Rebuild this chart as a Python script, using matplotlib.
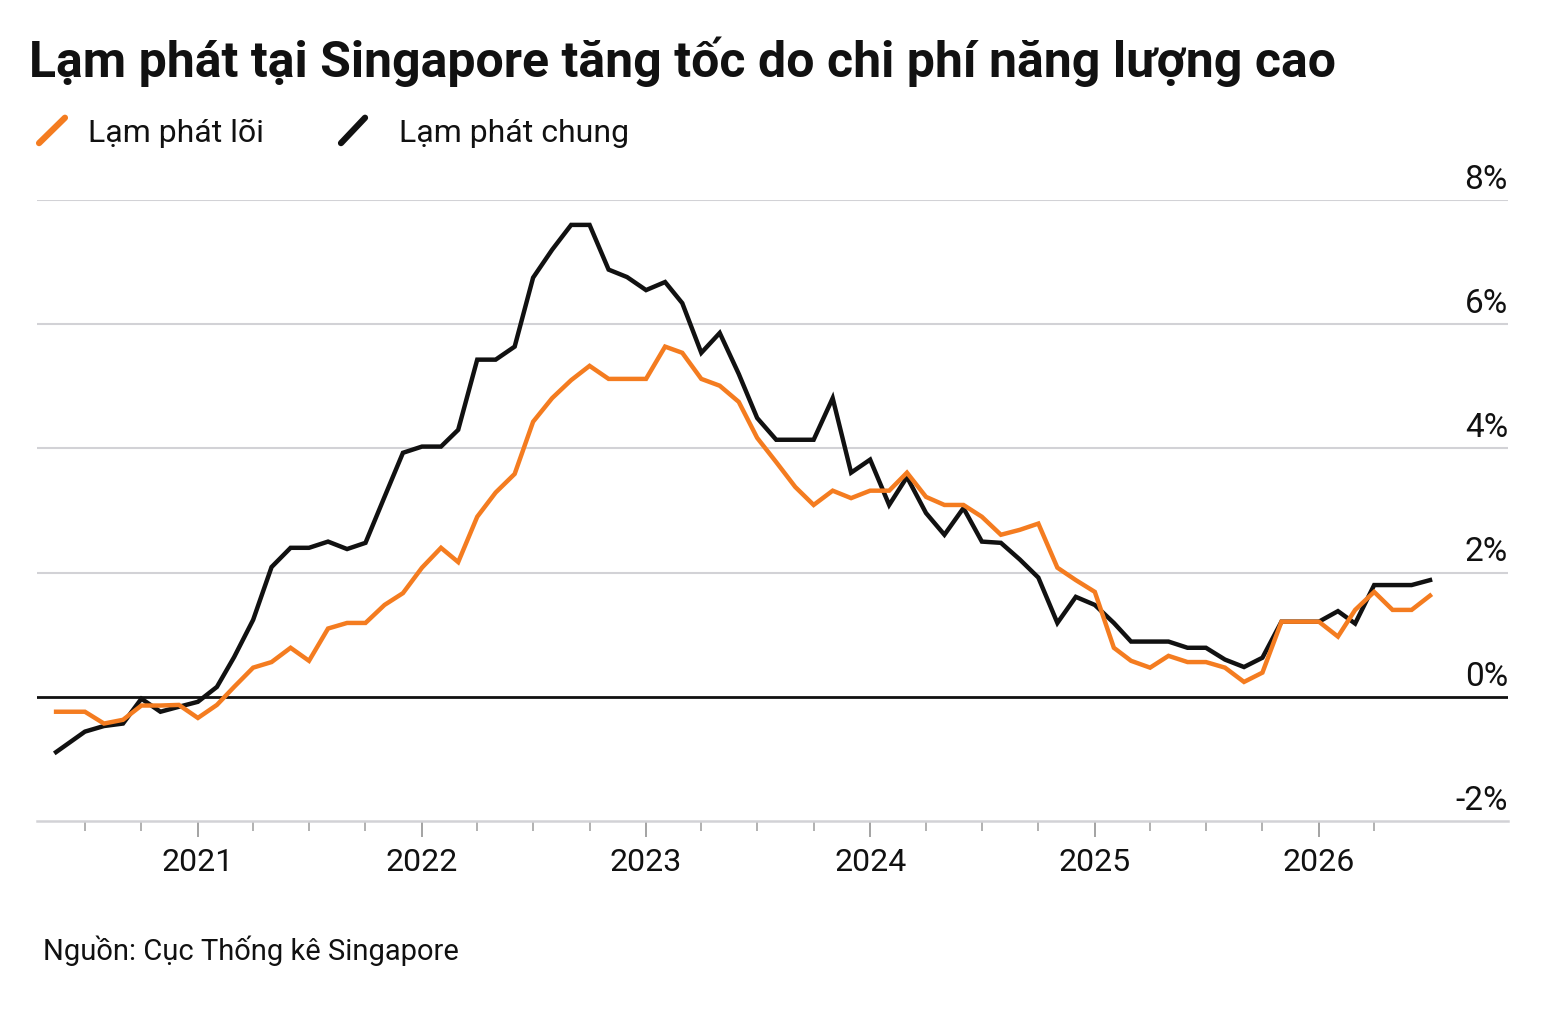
import matplotlib
matplotlib.use("Agg")
import matplotlib.pyplot as plt
import matplotlib.dates as mdates
import matplotlib.transforms as mtrans
import matplotlib.ticker as mticker
import pandas as pd
from matplotlib.lines import Line2D

# --------- DATA ----------
TITLE = "Lạm phát tại Singapore tăng tốc do chi phí năng lượng cao"
SOURCE = "Nguồn: Cục Thống kê Singapore"
LABEL_CORE = "Lạm phát lõi"
LABEL_HEADLINE = "Lạm phát chung"

# first reading sits mid-May 2020, then monthly from July 2020
DATES = pd.to_datetime(["2020-05-15"]).append(
    pd.date_range("2020-07-01", "2026-07-01", freq="MS"))

HEADLINE = [
    -0.89,
    -0.56, -0.47, -0.43, -0.03, -0.24, -0.16,                            # 2020 Jul-Dec
    -0.08, 0.16, 0.64, 1.24, 2.09, 2.40, 2.40, 2.50, 2.38, 2.48, 3.22, 3.93,  # 2021
    4.03, 4.03, 4.30, 5.43, 5.43, 5.64, 6.75, 7.20, 7.60, 7.60, 6.88, 6.76,   # 2022
    6.55, 6.68, 6.34, 5.54, 5.86, 5.20, 4.49, 4.14, 4.14, 4.14, 4.81, 3.61,   # 2023
    3.82, 3.09, 3.54, 2.96, 2.61, 3.04, 2.50, 2.48, 2.21, 1.92, 1.19, 1.61,   # 2024
    1.48, 1.19, 0.89, 0.89, 0.89, 0.79, 0.79, 0.60, 0.48, 0.63, 1.21, 1.21,   # 2025
    1.21, 1.38, 1.18, 1.80, 1.80, 1.80, 1.88,                             # 2026 Jan-Jul
]

CORE = [
    -0.24,
    -0.24, -0.43, -0.37, -0.14, -0.14, -0.13,
    -0.34, -0.13, 0.16, 0.47, 0.56, 0.79, 0.58, 1.10, 1.19, 1.19, 1.48, 1.67,
    2.08, 2.40, 2.17, 2.90, 3.29, 3.59, 4.43, 4.81, 5.10, 5.33, 5.12, 5.12,
    5.12, 5.64, 5.54, 5.12, 5.01, 4.75, 4.17, 3.78, 3.38, 3.09, 3.32, 3.20,
    3.32, 3.32, 3.61, 3.22, 3.09, 3.09, 2.90, 2.61, 2.69, 2.79, 2.08, 1.88,
    1.69, 0.79, 0.58, 0.47, 0.66, 0.56, 0.56, 0.47, 0.24, 0.39, 1.21, 1.21,
    1.21, 0.97, 1.40, 1.69, 1.40, 1.40, 1.63,
]

Y_TICKS = [-2, 0, 2, 4, 6, 8]
Y_LABELS = ["-2%", "0%", "2%", "4%", "6%", "8%"]
# quarter marks between the year ticks
QUARTERS = [d for d in pd.date_range("2020-07-01", "2026-04-01", freq="QS-JAN")
            if d.month != 1]
# -------------------------

ORANGE = "#f47c20"
BLACK = "#111111"
GRID = "#d2d2d6"
TICK = "#9c9c9c"
FONT = ["Roboto", "DejaVu Sans"]

plt.rcParams["font.family"] = FONT

fig = plt.figure(figsize=(15.5, 10.15), dpi=100)
ax = fig.add_axes([0.0239, 0.1911, 0.9490, 0.6118])

ax.plot(DATES, HEADLINE, color=BLACK, lw=3.2, solid_joinstyle="miter", zorder=4)
ax.plot(DATES, CORE, color=ORANGE, lw=3.2, solid_joinstyle="miter", zorder=5)

ax.set_xlim(pd.Timestamp("2020-04-14"), pd.Timestamp("2026-11-05"))
ax.set_ylim(-2, 8)

# horizontal rules
for v in Y_TICKS[2:]:
    ax.axhline(v, color=GRID, lw=1.5, zorder=1)
ax.axhline(0, color=BLACK, lw=2.0, zorder=3)

for s in ["left", "right", "top"]:
    ax.spines[s].set_visible(False)
ax.spines["bottom"].set_color(GRID)
ax.spines["bottom"].set_linewidth(1.8)

ax.set_yticks([])

ax.xaxis.set_major_locator(mdates.YearLocator())
ax.xaxis.set_major_formatter(mdates.DateFormatter("%Y"))
ax.xaxis.set_minor_locator(mticker.FixedLocator(mdates.date2num(QUARTERS)))
ax.tick_params(axis="x", which="major", length=11.5, width=1.3, color=TICK,
               labelsize=23, pad=8, labelcolor=BLACK)
ax.tick_params(axis="x", which="minor", length=7, width=1.1, color=TICK)

# y labels sit right-aligned above each rule
tr = mtrans.blended_transform_factory(ax.transAxes, ax.transData)
offset = mtrans.ScaledTranslation(0, 3 / 72, fig.dpi_scale_trans)
for v, lab in zip(Y_TICKS, Y_LABELS):
    ax.text(1.0, v, lab, transform=tr + offset, ha="right", va="bottom",
            fontsize=24, color=BLACK)

# title, legend, source
fig.text(0.019, 0.924, TITLE, fontsize=36, fontweight="bold", color=BLACK,
         ha="left", va="baseline")

fig.add_artist(Line2D([0.0252, 0.0419], [0.859, 0.884], color=ORANGE, lw=4.5,
                      solid_capstyle="round", transform=fig.transFigure))
fig.text(0.0565, 0.860, LABEL_CORE, fontsize=23, color=BLACK, ha="left", va="baseline")
fig.add_artist(Line2D([0.2200, 0.2355], [0.859, 0.884], color=BLACK, lw=4.5,
                      solid_capstyle="round", transform=fig.transFigure))
fig.text(0.2575, 0.860, LABEL_HEADLINE, fontsize=23, color=BLACK, ha="left", va="baseline")

fig.text(0.0275, 0.054, SOURCE, fontsize=21, color=BLACK, ha="left", va="baseline")

fig.savefig("out.png", dpi=100, facecolor="white")
